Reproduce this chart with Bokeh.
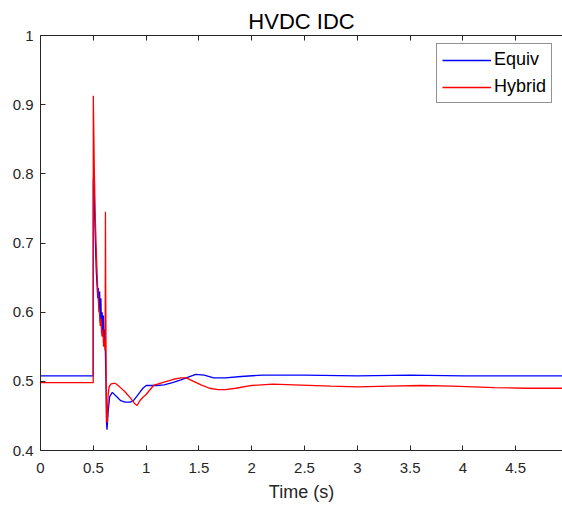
from bokeh.plotting import figure
from bokeh.models import Range1d, LinearAxis, FixedTicker, Legend, LegendItem
from bokeh.embed import file_html
from bokeh.resources import INLINE

# DC current of the HVDC link, equivalent model vs hybrid model (p.u.)
equiv_t = [0.0, 0.499, 0.500, 0.505, 0.512, 0.520, 0.528, 0.535, 0.542, 0.548,
           0.555, 0.560, 0.566, 0.572, 0.578, 0.584, 0.590, 0.596, 0.602, 0.608,
           0.614, 0.620, 0.625, 0.630, 0.640, 0.655, 0.680, 0.720, 0.760, 0.800,
           0.850, 0.880, 0.910, 0.940, 0.970, 1.000, 1.040, 1.100, 1.170, 1.250,
           1.330, 1.400, 1.470, 1.550, 1.640, 1.750, 1.900, 2.100, 2.500, 3.000,
           3.500, 4.000, 4.500, 4.950]
equiv_v = [0.508, 0.508, 0.790, 0.800, 0.745, 0.700, 0.660, 0.640, 0.620, 0.635,
           0.600, 0.630, 0.585, 0.620, 0.570, 0.600, 0.565, 0.595, 0.560, 0.575,
           0.545, 0.500, 0.440, 0.430, 0.455, 0.478, 0.484, 0.478, 0.472, 0.470,
           0.470, 0.472, 0.478, 0.484, 0.490, 0.494, 0.494, 0.494, 0.495, 0.498,
           0.502, 0.506, 0.510, 0.509, 0.505, 0.505, 0.507, 0.509, 0.509, 0.508,
           0.509, 0.508, 0.508, 0.508]

hybrid_t = [0.0, 0.499, 0.500, 0.503, 0.510, 0.520, 0.530, 0.540, 0.550, 0.558,
            0.566, 0.574, 0.582, 0.590, 0.598, 0.606, 0.612, 0.615, 0.618, 0.622,
            0.626, 0.632, 0.640, 0.650, 0.665, 0.690, 0.710, 0.750, 0.800, 0.850,
            0.890, 0.915, 0.940, 0.970, 1.000, 1.070, 1.170, 1.260, 1.330, 1.380,
            1.450, 1.520, 1.600, 1.680, 1.750, 1.850, 2.000, 2.200, 2.400, 2.750,
            3.000, 3.300, 3.600, 3.900, 4.300, 4.600, 4.950]
hybrid_v = [0.498, 0.498, 0.913, 0.880, 0.800, 0.730, 0.680, 0.640, 0.610, 0.600,
            0.580, 0.590, 0.565, 0.575, 0.550, 0.560, 0.545, 0.745, 0.620, 0.500,
            0.445, 0.440, 0.480, 0.492, 0.496, 0.497, 0.497, 0.492, 0.485, 0.476,
            0.468, 0.465, 0.472, 0.477, 0.481, 0.494, 0.499, 0.503, 0.505, 0.505,
            0.500, 0.495, 0.490, 0.488, 0.488, 0.490, 0.494, 0.496, 0.495, 0.493,
            0.492, 0.493, 0.494, 0.493, 0.491, 0.490, 0.490]

x_ticks = [0, 0.5, 1, 1.5, 2, 2.5, 3, 3.5, 4, 4.5]
y_ticks = [0.4, 0.5, 0.6, 0.7, 0.8, 0.9, 1.0]

FONT = "Liberation Sans"
AXIS_COLOR = "#262626"

p = figure(width=562, height=508, output_backend="svg", toolbar_location=None,
           x_range=Range1d(0, 4.943), y_range=Range1d(0.4, 1.0),
           min_border_left=40, min_border_right=0, min_border_top=35,
           min_border_bottom=58, title="HVDC IDC")
p.outline_line_color = None
p.grid.visible = False
p.background_fill_color = "white"
p.border_fill_color = "white"

p.title.align = "center"
p.title.text_font = FONT
p.title.text_font_size = "22px"
p.title.text_font_style = "normal"
p.title.text_color = "black"
p.title.standoff = 4

for ax in (p.xaxis[0], p.yaxis[0]):
    ax.axis_line_color = AXIS_COLOR
    ax.major_tick_line_color = AXIS_COLOR
    ax.major_tick_in = 5
    ax.major_tick_out = 0
    ax.minor_tick_line_color = None
    ax.major_label_text_font = FONT
    ax.major_label_text_font_size = "15px"
    ax.major_label_text_color = AXIS_COLOR

p.xaxis[0].ticker = FixedTicker(ticks=x_ticks)
p.xaxis[0].major_label_standoff = 12
p.xaxis[0].axis_label = "Time (s)"
p.xaxis[0].axis_label_text_font = FONT
p.xaxis[0].axis_label_text_font_size = "18px"
p.xaxis[0].axis_label_text_font_style = "normal"
p.xaxis[0].axis_label_text_color = AXIS_COLOR
p.xaxis[0].axis_label_standoff = 6

p.yaxis[0].ticker = FixedTicker(ticks=y_ticks)
p.yaxis[0].major_label_standoff = 7
p.yaxis[0].major_label_overrides = {1.0: "1"}

# top edge of the axes box, ticks pointing inward, no labels
top = LinearAxis(ticker=FixedTicker(ticks=x_ticks))
top.axis_line_color = AXIS_COLOR
top.major_tick_line_color = AXIS_COLOR
top.major_tick_in = 5
top.major_tick_out = 0
top.minor_tick_line_color = None
top.major_label_text_font_size = "1px"
top.major_label_text_color = None
top.major_label_standoff = 0
p.add_layout(top, "above")

r_eq = p.line(equiv_t, equiv_v, line_color="#0000ff", line_width=1.3)
r_hy = p.line(hybrid_t, hybrid_v, line_color="#ff0000", line_width=1.3)

legend = Legend(items=[LegendItem(label="Equiv", renderers=[r_eq]),
                       LegendItem(label="Hybrid", renderers=[r_hy])],
                location=(396, 347))
legend.label_text_font = FONT
legend.label_text_font_size = "18px"
legend.label_text_color = "black"
legend.border_line_color = AXIS_COLOR
legend.border_line_width = 1
legend.background_fill_alpha = 1
legend.padding = 5
legend.spacing = 6
legend.margin = 0
legend.glyph_width = 49
legend.glyph_height = 20
legend.label_height = 20
legend.label_standoff = 3
p.add_layout(legend, "center")

open("out.html", "w").write(file_html(p, INLINE))
